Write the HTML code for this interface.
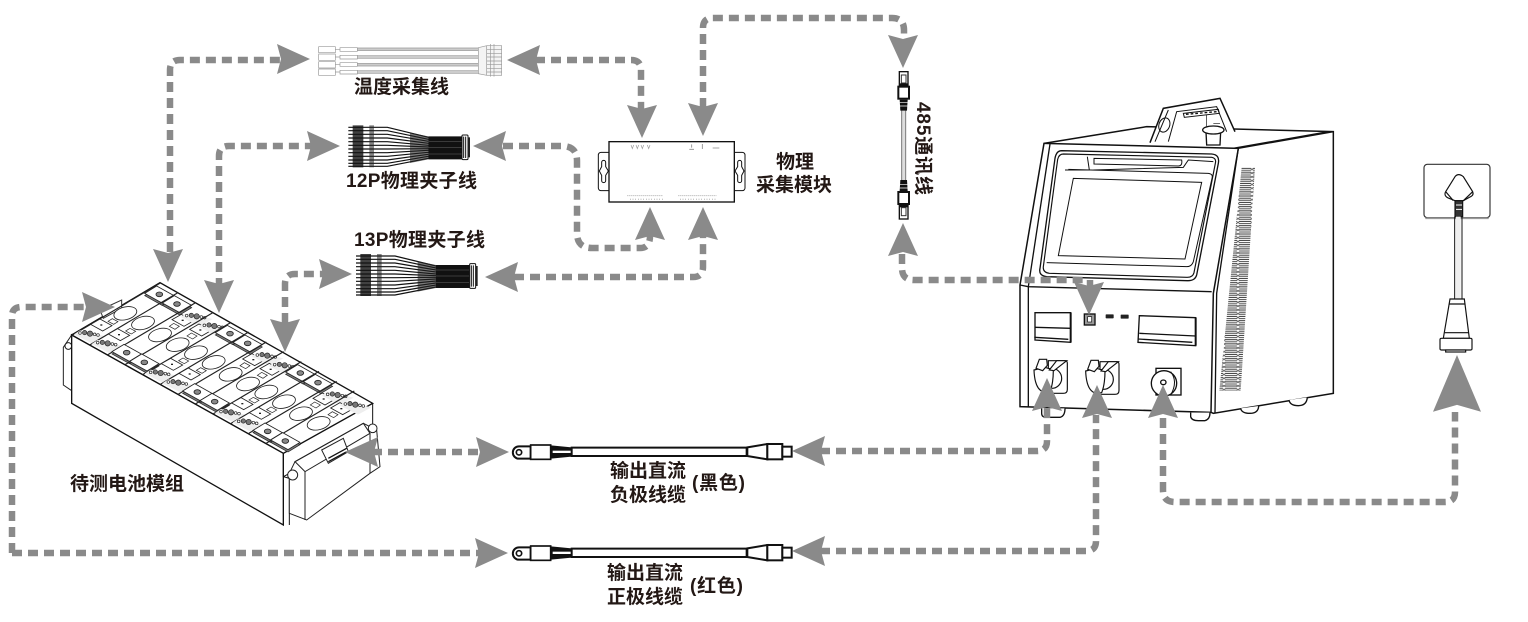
<!DOCTYPE html>
<html><head><meta charset="utf-8"><style>
html,body{margin:0;padding:0;background:#fff;width:1528px;height:622px;overflow:hidden}
svg{display:block}
text{font-family:"Liberation Sans","Noto Sans CJK SC",sans-serif;font-weight:700;font-size:19px;fill:#231815}
.c{fill:none;stroke:#8a8a8a;stroke-width:6.5;stroke-dasharray:10 6}
.ar{fill:#8a8a8a}
</style></head><body>
<svg width="1528" height="622" viewBox="0 0 1528 622" xmlns="http://www.w3.org/2000/svg">
<defs>
<path id="a" d="M0 0L15 33L0 29L-15 33Z"/>
<pattern id="vent" patternUnits="userSpaceOnUse" width="42" height="11.4">
<rect x="2" y="3" width="38" height="5.6" rx="2.8" fill="#fff" stroke="#222" stroke-width="2.2"/>
</pattern>
<g id="t">
<path d="M44 9L8 31L-44 2L-8 -20Z" fill="#777" stroke="#222" stroke-width="2"/>
<path d="M44 2L8 24L-44 -5L-8 -27Z" fill="#fff" stroke="#222" stroke-width="2.5"/>
<ellipse rx="10" ry="7" cy="-2" fill="#888" stroke="#222" stroke-width="2.5"/>
</g>
<g id="p">
<path d="M32 2L4 18L-32 -2L-4 -18Z" fill="#fff" stroke="#222" stroke-width="2.5"/>
<rect x="-3" y="-2" width="6" height="4" fill="#222"/>
</g>
<g id="k" fill="#fff" stroke="#222" stroke-width="2">
<path d="M-48 6L-30 -6L48 12L8 34Z" fill="#eee" stroke="none"/>
<circle cx="-30" cy="2" r="4"/><circle cx="-16" cy="1" r="6.5" fill="#777"/><circle cx="0" cy="4" r="8" fill="#777"/><circle cx="14" cy="6" r="4"/><circle cx="24" cy="8" r="4"/>
</g>
<g id="sA">
<path d="M0 0L265 -157" fill="none" stroke="#222" stroke-width="3.5"/>
<use href="#k" x="54" y="-9"/>
<use href="#p" x="88" y="-31"/>
<path d="M108 -42L125 -33L138 -41L121 -50Z" fill="#fff" stroke="#222" stroke-width="2"/>
<ellipse cx="160" cy="-66" rx="35" ry="19" transform="rotate(-14 160 -66)" fill="#fff" stroke="#222" stroke-width="2.5"/>
<use href="#t" x="262" y="-121"/>
</g>
<g id="sB">
<path d="M0 0L265 -157" fill="none" stroke="#222" stroke-width="3.5"/>
<use href="#t" x="58" y="-5"/>
<ellipse cx="158" cy="-60" rx="35" ry="19" transform="rotate(-14 158 -60)" fill="#fff" stroke="#222" stroke-width="2.5"/>
<path d="M186 -86L203 -77L216 -86L199 -95Z" fill="#fff" stroke="#222" stroke-width="2"/>
<use href="#p" x="226" y="-104"/>
<use href="#k" x="268" y="-120"/>
</g>
<g id="ribbon" fill="none" stroke="#111" stroke-width="3.6">
<path d="M145 292H262L385 322H485"/><path d="M145 302H262L385 328H485"/><path d="M145 313H262L385 334H485"/><path d="M145 324H262L385 340H485"/><path d="M145 335H262L385 346H485"/><path d="M145 346H262L385 351H485"/><path d="M145 357H262L385 356H485"/><path d="M145 368H262L385 361H485"/><path d="M145 379H262L385 367H485"/><path d="M145 390H262L385 373H485"/><path d="M145 400H262L385 379H485"/><path d="M145 409H262L385 385H485"/>
<path d="M158 286H190V412H158Z" fill="#111" fill-opacity=".8" stroke="none"/>
<path d="M208 286H222V412H208Z" fill="#222" fill-opacity=".55" stroke="none"/>
<path d="M385 319H485V388H385Z" fill="#111" stroke="none"/>
<path d="M330 308L385 319V388L330 399Z" fill="#222" fill-opacity=".6" stroke="none"/>
<path d="M385 334H485M385 352H485M385 372H485" stroke="#666" stroke-width="1.6"/>
<rect x="486" y="315" width="18" height="74" rx="3" fill="#fff" stroke-width="3"/>
<path d="M491 320V384M497 320V384" stroke-width="3"/>
<rect x="503" y="322" width="7" height="60" fill="#222" stroke="none"/>
</g>
<g id="cable">
<path d="M87 49H122V86H87A18.500 18.500 0 0 1 87 49Z" fill="#fff" stroke="#111" stroke-width="6"/>
<circle cx="87" cy="67" r="8" fill="#fff" stroke="#111" stroke-width="5"/>
<rect x="122" y="45" width="60" height="43" fill="#fff" stroke="#111" stroke-width="5"/>
<path d="M183 46L245 52V80L183 86Z" fill="#111"/>
<rect x="188" y="62" width="57" height="7" fill="#fff"/>
<path d="M245 53H770V78H245Z" fill="#fff" stroke="#111" stroke-width="6"/>
<path d="M772 52L832 42V88L772 78Z" fill="#fff" stroke="#111" stroke-width="6"/>
<rect x="832" y="42" width="45" height="46" fill="#fff" stroke="#111" stroke-width="6"/>
<rect x="877" y="50" width="28" height="30" fill="#fff" stroke="#111" stroke-width="6"/>
</g>
<g id="c485">
<rect x="118" y="65" width="26" height="42" fill="#fff" stroke="#111" stroke-width="4"/>
<rect x="124" y="75" width="14" height="24" fill="#fff" stroke="#333" stroke-width="3"/>
<path d="M118 103H144" stroke="#111" stroke-width="6"/>
<rect x="115" y="110" width="32" height="36" fill="#fff" stroke="#111" stroke-width="6"/>
<path d="M119 149H143L141 182H121Z" fill="#111"/>
<path d="M119 158H143M119 168H143" stroke="#fff" stroke-width="2"/>
</g>
<g id="sock" fill="#fff" stroke="#111" stroke-width="3.5">
<path d="M85 212H135Q142 212 142 220V298Q142 310 130 310H85Z"/>
<circle cx="95" cy="265" r="30"/>
<path d="M42 240Q44 295 68 305H90Q100 280 100 240L75 232Z"/>
<path d="M48 235L58 208L80 208L82 226L68 242Z"/>
<path d="M88 240L110 212H140L102 242Z"/>
</g>
</defs>

<!-- Battery module -->
<g transform="translate(0 260) scale(.33333)">
<path d="M215 225L190 262V375L215 392Z" fill="#fff" stroke="#222" stroke-width="3"/>
<circle cx="205" cy="258" r="10" fill="#fff" stroke="#222" stroke-width="3"/>
<path d="M215 225L480 68L1118 430L850 580Z" fill="#fff" stroke="#111" stroke-width="4"/>
<path d="M215 225V430L850 795V580Z" fill="#fff" stroke="#111" stroke-width="4"/>
<path d="M1118 430V505L850 650" fill="none" stroke="#111" stroke-width="3"/>
<path d="M300 150L365 120V145L310 175Z" fill="#fff" stroke="#333" stroke-width="3"/>
<use href="#sA" transform="translate(216 226)"/>
<use href="#sA" transform="translate(269 255)"/>
<use href="#sB" transform="translate(322 285)"/>
<use href="#sB" transform="translate(375 314)"/>
<use href="#sA" transform="translate(428 344)"/>
<use href="#sA" transform="translate(481 373)"/>
<use href="#sB" transform="translate(534 403)"/>
<use href="#sB" transform="translate(586 432)"/>
<use href="#sA" transform="translate(639 462)"/>
<use href="#sA" transform="translate(692 491)"/>
<use href="#sB" transform="translate(745 521)"/>
<use href="#sB" transform="translate(798 550)"/>
<path d="M850 580L850 650L868 655V795" fill="none" stroke="#111" stroke-width="3"/>
<path d="M885 605L1090 490L1130 510L1140 620L1110 640L920 780L868 760V640Z" fill="#fff" stroke="#222" stroke-width="3"/>
<path d="M885 605L915 635L1110 520L1090 490ZM915 635V780M1110 520V640" fill="none" stroke="#222" stroke-width="3"/>
<path d="M965 570L1030 535L1045 575L985 610Z" fill="#fff" stroke="#222" stroke-width="3"/>
<path d="M985 595L1040 565M985 605L1040 575" stroke="#111" stroke-width="4"/>
<circle cx="878" cy="645" r="15" fill="#fff" stroke="#222" stroke-width="3"/>
<circle cx="1118" cy="505" r="13" fill="#fff" stroke="#222" stroke-width="3"/>
</g>

<!-- Temperature line -->
<g transform="translate(300 30) scale(.33333)" fill="none" stroke="#999" stroke-width="2">
<path d="M172 58H535M172 81H535M172 104H535M172 126H535" stroke-width="8" stroke="#ccc"/>
<path d="M172 54H535M172 62H535M172 77H535M172 85H535M172 100H535M172 108H535M172 122H535M172 130H535"/>
<path d="M56 50H106V68H56ZM56 72H106V91H56ZM56 95H106V114H56ZM56 117H106V136H56Z" fill="#fff"/>
<path d="M120 53H172V64H120ZM120 76H172V87H120ZM120 98H172V109H120ZM120 121H172V132H120Z" fill="#fff"/>
<path d="M106 58H120M106 81H120M106 104H120M106 126H120"/>
<path d="M535 53L560 47H605V136H560L535 131Z" fill="#f4f4f4"/>
<path d="M560 47V136M572 42V140M582 42V140M560 58H605M560 70H605M560 81H605M560 93H605M560 104H605M560 115H605M560 126H605"/>
</g>

<!-- ribbons -->
<g transform="translate(300 30) scale(.33333)">
<use href="#ribbon"/>
<use href="#ribbon" transform="translate(23 386)"/>
</g>

<!-- Module -->
<g transform="translate(570 100) scale(.33333)">
<rect x="85" y="157" width="40" height="115" rx="8" fill="#fff" stroke="#111" stroke-width="3"/>
<rect x="485" y="157" width="40" height="115" rx="8" fill="#fff" stroke="#111" stroke-width="3"/>
<path d="M95 187A6 6 0 0 1 107 187V200L115 213L107 226V242A6 6 0 0 1 95 242V226L88 213L95 200Z" fill="#fff" stroke="#111" stroke-width="3"/>
<path d="M503 187A6 6 0 0 1 515 187V200L522 213L515 226V242A6 6 0 0 1 503 242V226L495 213L503 200Z" fill="#fff" stroke="#111" stroke-width="3"/>
<rect x="117" y="125" width="376" height="181" fill="#fff" stroke="#111" stroke-width="4"/>
<path d="M183 135L187 146L191 135M198 135L202 146L206 135M213 135L217 146L221 135M232 135L236 146L240 135" stroke="#999" stroke-width="2" fill="none"/>
<path d="M365 133V143M358 148H372M397 132V147M428 144H448" stroke="#888" stroke-width="2.500"/>
<path d="M172 287H278M325 287H440" stroke="#aaa" stroke-width="3" stroke-dasharray="3 3"/>
<path d="M180 298H278M330 298H436" stroke="#aaa" stroke-width="4" stroke-dasharray="2 6"/>
</g>

<!-- 485 cable -->
<g transform="translate(860 50) scale(.33333)">
<path d="M131 180V390" stroke="#ddd" stroke-width="10" fill="none"/>
<path d="M125 180V390M137 180V390" stroke="#777" stroke-width="3" fill="none"/>
<use href="#c485"/>
<use href="#c485" transform="translate(0 572) scale(1 -1)"/>
</g>

<!-- Main unit -->
<g transform="translate(1000 80) scale(.33333)" fill="none" stroke="#111" stroke-width="4">
<path d="M132 190L440 140L1000 155V940L640 1000L633 997L60 980V615Z" fill="#fff" stroke-width="4.500"/>
<path d="M132 190L715 205L640 640L633 997" stroke-width="4.500"/>
<path d="M150 192L85 620V982M715 205L650 640L645 998M715 205L1000 155M700 205L985 155"/>
<path d="M60 615L85 620L635 635"/>
<path d="M450 188L490 85L660 55L705 155" stroke-width="4.500" fill="#fff"/>
<path d="M505 185L530 95L650 80L680 155M465 185L505 90" stroke-width="3"/>
<path d="M550 100L655 88L658 100L553 112Z" stroke-width="3"/>
<path d="M558 103L650 95" stroke-width="4" stroke-dasharray="8 6"/>
<ellipse cx="493" cy="135" rx="16" ry="22" transform="rotate(20 493 135)" stroke-width="3"/>
<path d="M618 155L620 195H660L662 155Z" fill="#fff"/>
<ellipse cx="640" cy="150" rx="32" ry="12" fill="#fff" stroke-width="4"/>
<path d="M620 140V105M640 130H660" stroke-width="2"/>
<path d="M185 212L635 222Q660 224 655 250L590 585Q585 603 562 602L140 590Q115 587 120 565L165 235Q169 212 185 212Z" fill="#fff" stroke-width="4"/>
<path d="M190 222L635 232Q650 235 646 250L582 578Q578 593 560 592L148 580Q128 577 130 560L173 238Q177 222 190 222Z" stroke-width="3.500"/>
<path d="M195 270L268 270L262 230M280 270L550 262L565 240L640 245" stroke-width="3"/>
<path d="M282 235L545 240Q548 258 535 258L282 252Z" stroke-width="3"/>
<path d="M205 268L625 280Q640 282 636 295L580 545Q575 560 560 560L140 548" stroke-width="3"/>
<path d="M220 295L605 307L555 537L175 527Z" fill="#fff" stroke-width="3"/>
<path d="M725 262H765L722 932H658Z" fill="url(#vent)" stroke="none"/>
<path d="M105 698H212V787L105 780Z" fill="#fff"/><path d="M105 742L212 745M103 772L205 778"/>
<path d="M212 698V787" stroke-width="6"/>
<path d="M418 707L587 713V797L414 787Z" fill="#fff"/><path d="M418 760L587 768M414 777L577 787"/><path d="M587 713V797" stroke-width="6"/>
<rect x="253" y="702" width="32" height="33" fill="#999" stroke-width="4"/>
<rect x="263" y="710" width="12" height="16" fill="#fff" stroke-width="2"/>
<rect x="317" y="703" width="24" height="12" fill="#222" rx="2" stroke="none"/>
<rect x="362" y="704" width="24" height="12" fill="#222" rx="2" stroke="none"/>
<rect x="468" y="865" width="75" height="80" fill="#fff" stroke-width="4"/>
<circle cx="492" cy="910" r="38" fill="#fff" stroke-width="4"/>
<ellipse cx="490" cy="907" rx="8" ry="7"/>
<path d="M512 875Q535 905 512 945" stroke-width="3"/>
<path d="M125 985V1000Q125 1012 140 1012H180Q195 1008 195 985" fill="#fff"/>
<path d="M572 998V1010Q575 1022 595 1022H615Q630 1018 630 998" fill="#fff"/>
<path d="M722 985Q725 1000 750 1000Q775 1000 776 978" fill="#fff"/>
<path d="M867 960Q870 977 895 977Q920 977 922 952" fill="#fff"/>
</g>
<g transform="translate(1020 290) scale(.33333)">
<use href="#sock"/>
<use href="#sock" x="155" y="3"/>
</g>

<!-- Plug -->
<g transform="translate(1400 150) scale(.33333)" fill="none" stroke="#111" stroke-width="3.5">
<rect x="72" y="43" width="198" height="160" rx="10" fill="#fff" stroke="#333"/>
<path d="M76 205H266" stroke="#999" stroke-width="5"/>
<path d="M137 125L165 80Q175 68 190 80L218 125Q222 135 212 140L190 152H165L147 145Q130 138 137 125Z" fill="#fff"/>
<path d="M137 125L160 152M218 125L190 152"/>
<rect x="165" y="152" width="23" height="48" fill="#333"/>
<path d="M168 165H186M168 178H186" stroke="#fff" stroke-width="3"/>
<path d="M175 200V448" stroke="#eee" stroke-width="14"/>
<path d="M164 200V448M186 200V448" stroke-width="3"/>
<path d="M150 447H193L208 565H130Z" fill="#fff"/>
<path d="M148 462H196M134 548H206"/>
<rect x="120" y="565" width="96" height="35" rx="4" fill="#fff"/>
<rect x="137" y="600" width="60" height="6" fill="#fff"/>
</g>

<!-- Cables -->
<g transform="translate(490 430) scale(.33333)">
<use href="#cable"/>
<use href="#cable" transform="translate(0 303)"/>
</g>

<!-- Connectors -->
<g>
<path class="c" d="M170 252V70Q170 60 180 60H285"/>
<path class="c" d="M219 288V156Q219 146 229 146H318"/>
<path class="c" d="M285 323V284Q285 274 295 274H330"/>
<path class="c" d="M12 553V316Q12 307 22 307H95"/>
<path class="c" d="M12 553H488"/>
<path class="c" d="M535 60H631Q641 60 641 70V110"/>
<path class="c" d="M503 146H562Q577 146 577 161V233Q577 248 592 248H640Q650 248 650 236"/>
<path class="c" d="M514 277H693Q703 277 703 267V236"/>
<path class="c" d="M703 108V28Q703 18 713 18H892Q904 18 904 30V44"/>
<path class="c" d="M902 254V268Q902 280 914 280H1086"/>
<path class="c" d="M1090 280V290"/>
<path class="c" d="M372 452H488"/>
<path class="c" d="M820 451H1037Q1047 451 1047 441V405"/>
<path class="c" d="M820 551H1086Q1096 551 1096 541V415"/>
<path class="c" d="M1163 418V490Q1163 502 1175 502H1445Q1455 502 1455 492V412"/>
</g>
<g class="ar">
<use href="#a" transform="translate(168 282) rotate(180)"/>
<use href="#a" transform="translate(310 59) rotate(90)"/>
<use href="#a" transform="translate(219 313) rotate(180)"/>
<use href="#a" transform="translate(340 146) rotate(90)"/>
<use href="#a" transform="translate(285 352) rotate(180)"/>
<use href="#a" transform="translate(352 274) rotate(90)"/>
<use href="#a" transform="translate(115 307) rotate(90)"/>
<use href="#a" transform="translate(508 553) rotate(90)"/>
<use href="#a" transform="translate(507 60) rotate(-90)"/>
<use href="#a" transform="translate(642 138) rotate(180)"/>
<use href="#a" transform="translate(473 146) rotate(-90)"/>
<use href="#a" transform="translate(650 207)"/>
<use href="#a" transform="translate(485 277) rotate(-90)"/>
<use href="#a" transform="translate(703 207)"/>
<use href="#a" transform="translate(703 136) rotate(180)"/>
<use href="#a" transform="translate(903 68) rotate(180)"/>
<use href="#a" transform="translate(903 223)"/>
<use href="#a" transform="translate(1089 315) rotate(180)"/>
<use href="#a" transform="translate(345 452) rotate(-90)"/>
<use href="#a" transform="translate(509 452) rotate(90)"/>
<use href="#a" transform="translate(792 451) rotate(-90)"/>
<use href="#a" transform="translate(1047 378)"/>
<use href="#a" transform="translate(792 551) rotate(-90)"/>
<use href="#a" transform="translate(1097 385)"/>
<use href="#a" transform="translate(1163 385)"/>
<use href="#a" transform="translate(1457 355) scale(1.6 1.72)"/>
</g>

<!-- Labels -->
<text x="354" y="93">温度采集线</text>
<text x="346" y="187" textLength="131">12P物理夹子线</text>
<text x="354" y="246" textLength="131">13P物理夹子线</text>
<text x="776" y="168">物理</text>
<text x="756" y="191">采集模块</text>
<text x="70" y="490">待测电池模组</text>
<text x="610" y="477">输出直流</text>
<text x="610" y="501">负极线缆</text>
<text x="692" y="489" textLength="53">(黑色)</text>
<text x="607" y="579">输出直流</text>
<text x="607" y="603">正极线缆</text>
<text x="690" y="592" textLength="53">(红色)</text>
<text transform="translate(917 102) rotate(90)" textLength="93">485通讯线</text>
</svg>
</body></html>
